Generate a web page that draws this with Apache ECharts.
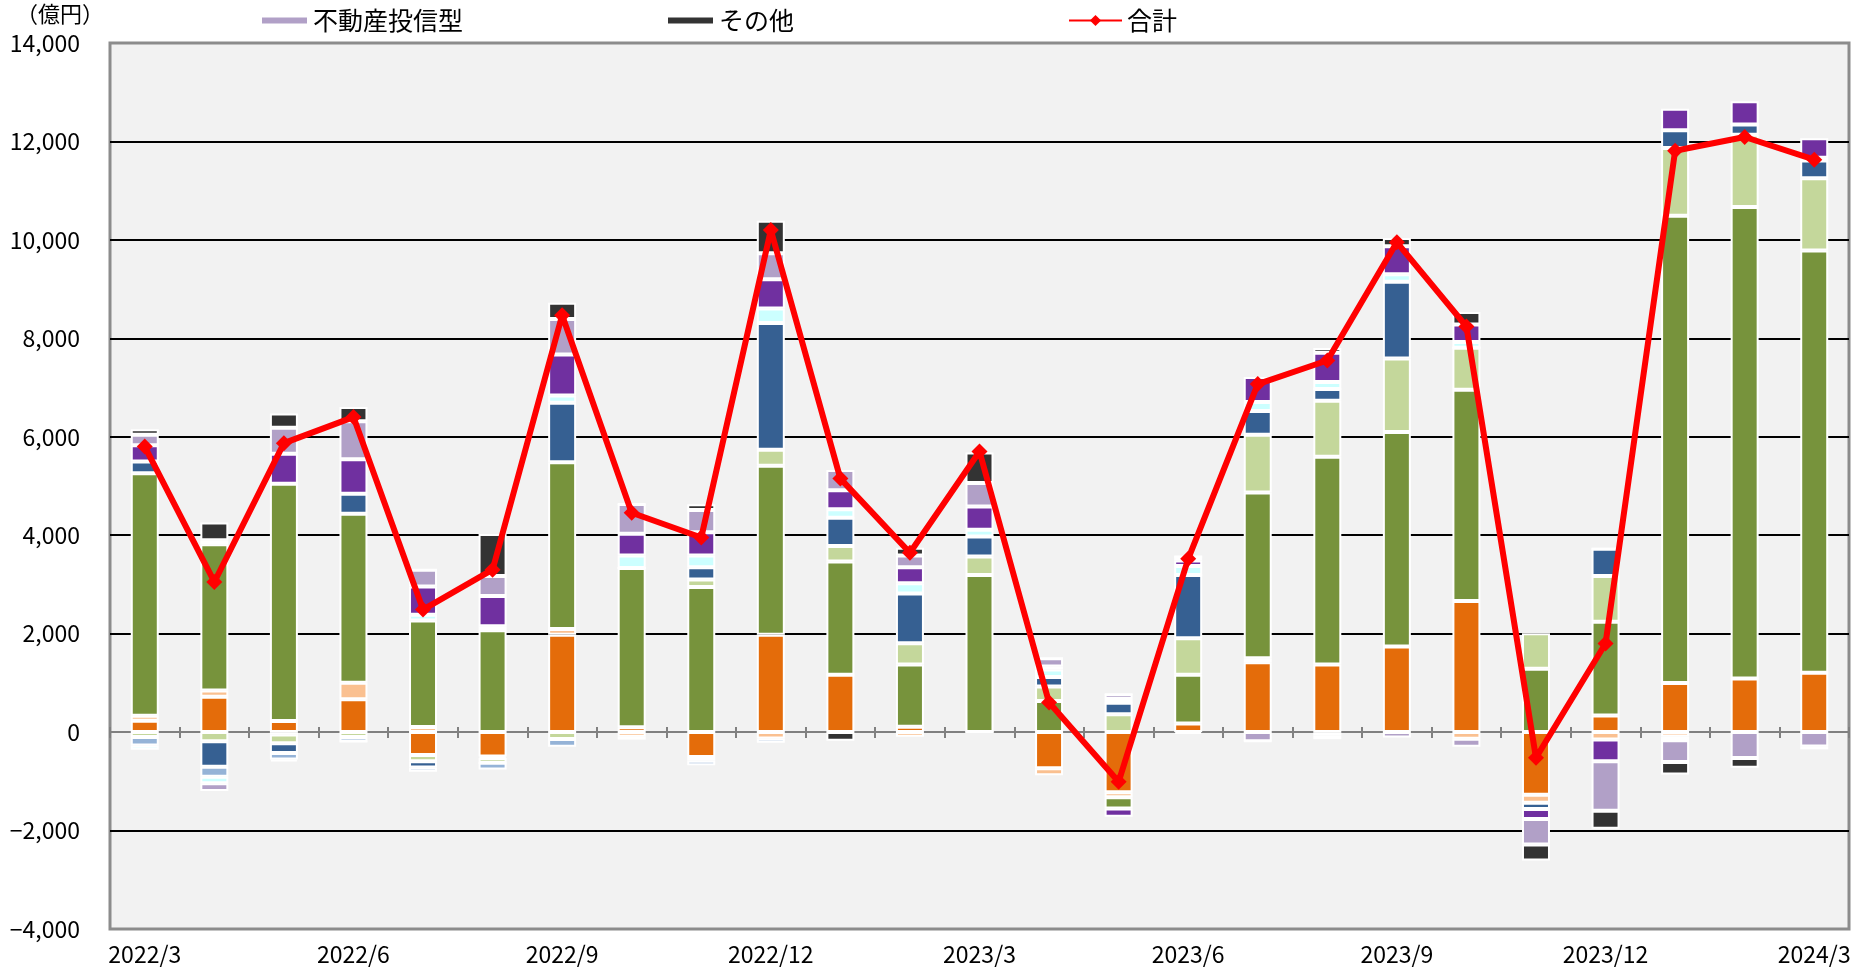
<!DOCTYPE html>
<html>
<head>
<meta charset="utf-8">
<script src="https://cdn.jsdelivr.net/npm/echarts@6/dist/echarts.min.js"></script>
<style>
html,body{margin:0;padding:0;background:#fff;}
#chart{width:1862px;height:968px;}
</style>
</head>
<body>
<div id="chart"></div>
<script>
var categories = ['2022/3','2022/4','2022/5','2022/6','2022/7','2022/8','2022/9','2022/10','2022/11','2022/12',
  '2023/1','2023/2','2023/3','2023/4','2023/5','2023/6','2023/7','2023/8','2023/9','2023/10','2023/11','2023/12',
  '2024/1','2024/2','2024/3'];
var seriesNames = ['国内株式型','国内債券型','国際株式型','国際株式型（ヘッジ）','国際債券型','国際債券型（ヘッジ）','資産複合型','バランス型','不動産投信型','その他'];
var kokunaiKabu   = [230,717,225,669,-464,-498,1977,100,-504,1977,1163,109,0,-734,-1224,177,1418,1376,1739,2663,-1274,340,996,1087,1205];
var kokunaiSaiken = [100,130,-50,335,102,-30,116,-93,-77,-132,0,-93,0,-144,-100,-40,84,-70,0,-136,-160,-150,-90,0,0];
var kokusaiKabu   = [4930,2970,4820,3430,2165,2068,3388,3233,2946,3434,2302,1263,3190,633,-228,988,3367,4219,4357,4294,1286,1900,9493,9583,8578];
var kokusaiKabuH  = [-100,-185,-175,-100,-130,-96,-140,0,155,325,318,434,380,295,363,742,1173,1139,1495,851,725,933,1377,1468,1467];
var kokusaiSaiken = [240,-520,-200,410,-123,0,1209,0,248,2574,574,1008,405,194,236,1283,481,236,1558,0,-130,553,362,208,362];
var kokusaiSaikenH= [-170,-200,-130,-90,-88,-136,-155,-60,-93,-85,0,0,0,0,0,0,0,0,0,0,0,0,-73,0,0];
var shisanFukugou = [-90,-135,-40,0,116,82,147,256,240,295,170,209,135,152,76,186,186,144,154,118,0,0,0,0,55];
var balance       = [330,80,610,700,574,615,837,442,473,597,388,326,472,59,-169,109,506,591,570,353,-200,-440,435,471,398];
var fudousan      = [210,-155,530,770,341,409,721,605,450,527,411,240,481,169,93,85,-186,-73,-109,-163,-520,-1010,-444,-525,-290];
var sonota        = [115,360,290,290,0,853,326,0,116,659,-178,155,616,0,0,0,0,100,163,254,-325,-365,-253,-200,-60];
var goukei        = [5800,3050,5870,6400,2490,3300,8470,4457,3953,10200,5150,3645,5700,600,-1010,3520,7070,7550,9950,8240,-520,1800,11810,12090,11630];
var yTicks = [-4000,-2000,0,2000,4000,6000,8000,10000,12000,14000];

var barData = [kokunaiKabu,kokunaiSaiken,kokusaiKabu,kokusaiKabuH,kokusaiSaiken,kokusaiSaikenH,shisanFukugou,balance,fudousan,sonota];
var barColors = ['#E46C0A','#FAC090','#77933C','#C4D79B','#366092','#95B3D7','#CCFFFF','#7030A0','#B1A0C7','#333333'];
var FONT = '"Noto Sans CJK JP", "Noto Sans", sans-serif';

var chart = echarts.init(document.getElementById('chart'), null, {renderer:'canvas'});
var series = barData.map(function(d, i){
  return {
    name: seriesNames[i], type:'bar', stack:'total', data:d,
    xAxisIndex:0, yAxisIndex:0, barWidth:28,
    itemStyle:{color:barColors[i], borderColor:'#ffffff', borderWidth:2},
    emphasis:{disabled:true}, animation:false
  };
});
series.push({
  name:'合計', type:'line', data:goukei, xAxisIndex:0, yAxisIndex:0,
  symbol:'diamond', symbolSize:16, z:10,
  lineStyle:{color:'#FF0000', width:6}, itemStyle:{color:'#FF0000'},
  emphasis:{disabled:true}, animation:false
});
series.push({type:'bar', data:[], xAxisIndex:2, yAxisIndex:1, silent:true});

var gridLineColors = yTicks.map(function(v){ return (v === yTicks[0] || v === 0 || v === yTicks[yTicks.length-1]) ? 'rgba(0,0,0,0)' : '#000000'; });

var legendCommon = {top:3, itemGap:5, textStyle:{fontFamily:FONT, fontSize:25, color:'#000'}, selectedMode:false};
chart.setOption({
  animation:false,
  backgroundColor:'#ffffff',
  graphic:[{type:'text', left:16, top:3, style:{text:'（億円）', font:'22px "Noto Sans CJK JP"', fill:'#000'}}],
  legend:[
    Object.assign({data:['不動産投信型'], left:255, icon:'rect', itemWidth:47, itemHeight:8}, legendCommon),
    Object.assign({data:['その他'], left:661, icon:'rect', itemWidth:47, itemHeight:8}, legendCommon),
    Object.assign({data:['合計'], left:1063, itemWidth:53, itemHeight:14}, legendCommon)
  ],
  grid:[
    {left:110, right:13, top:43, bottom:39, show:true, backgroundColor:'#F2F2F2', borderColor:'#8C8C8C', borderWidth:3},
    {left:110, right:13, top:43, bottom:39, show:false}
  ],
  xAxis:[
    {type:'category', data:categories, gridIndex:0, position:'bottom',
     axisLine:{show:false, onZero:false}, axisTick:{show:false},
     axisLabel:{interval:2, fontFamily:FONT, fontSize:23, color:'#000', margin:14}},
    {type:'category', data:categories, gridIndex:0, position:'top',
     axisLine:{show:true, onZero:true, lineStyle:{color:'#808080', width:2}},
     axisTick:{show:true, inside:true, length:6, lineStyle:{color:'#808080', width:2}},
     axisLabel:{show:false}},
    {type:'category', data:categories, gridIndex:1, position:'top',
     axisLine:{show:false, onZero:true},
     axisTick:{show:true, length:5, lineStyle:{color:'#808080', width:2}},
     axisLabel:{show:false}}
  ],
  yAxis:[
    {type:'value', gridIndex:0, min:-4000, max:14000, interval:2000,
     axisLine:{show:false}, axisTick:{show:false},
     splitLine:{show:true, lineStyle:{color:gridLineColors, width:2}},
     axisLabel:{fontFamily:FONT, fontSize:23, color:'#000', margin:30,
       formatter:function(v){ return (v<0?'−':'') + Math.abs(v).toLocaleString('en-US'); }}},
    {type:'value', gridIndex:1, min:-4000, max:14000, interval:2000, show:false}
  ],
  series:series
});
</script>
</body>
</html>
